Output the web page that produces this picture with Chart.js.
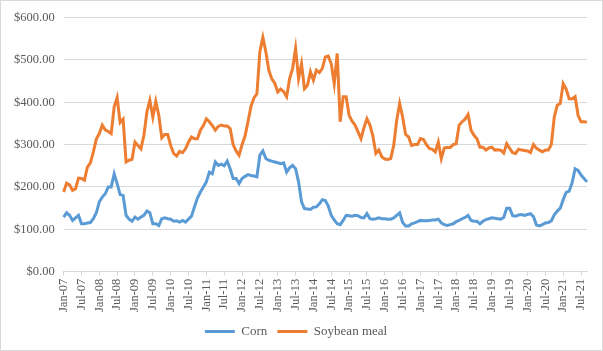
<!DOCTYPE html>
<html>
<head>
<meta charset="utf-8">
<script src="https://cdn.jsdelivr.net/npm/chart.js@4"></script>
<style>
  html, body { margin: 0; padding: 0; background: #fff; }
  #wrap { width: 603px; height: 351px; box-sizing: border-box; border: 1px solid #d9d9d9; position: relative; }
</style>
</head>
<body>
<div id="wrap"><canvas id="price-chart"></canvas></div>
<script>
const monthNames = ['Jan', 'Feb', 'Mar', 'Apr', 'May', 'Jun', 'Jul', 'Aug', 'Sep', 'Oct', 'Nov', 'Dec'];
const startYear = 2007;
const monthCount = 177; // Jan-07 .. Sep-21
const yTicks = [0, 100, 200, 300, 400, 500, 600];

const months = [];
for (let i = 0; i < monthCount; i++) {
  const yr = startYear + Math.floor(i / 12);
  months.push(monthNames[i % 12] + '-' + String(yr).slice(2));
}

const corn = [
  129, 139, 133, 121, 127, 133, 113, 113, 115, 116, 125, 139,
  165, 176, 184, 200, 200, 231, 208, 182, 180, 133, 124, 119,
  129, 124, 129, 133, 143, 139, 113, 113, 109, 125, 127, 125,
  124, 119, 120, 117, 121, 117, 124, 131, 153, 174, 188, 200,
  212, 235, 231, 259, 251, 254, 250, 261, 243, 220, 220, 208,
  220, 225, 229, 227, 226, 224, 275, 285, 267, 263, 261, 259,
  257, 255, 257, 235, 245, 251, 243, 212, 165, 149, 148, 147,
  152, 153, 160, 170, 168, 155, 133, 122, 113, 111, 121, 133,
  132, 131, 133, 132, 128, 127, 137, 125, 124, 125, 127, 125,
  125, 124, 124, 127, 133, 139, 116, 108, 108, 113, 115, 118,
  121, 120, 120, 121, 122, 122, 124, 115, 111, 109, 111, 113,
  118, 121, 125, 128, 133, 121, 119, 119, 113, 119, 123, 125,
  127, 126, 125, 124, 128, 150, 150, 132, 131, 134, 135, 133,
  135, 137, 130, 110, 108, 111, 115, 116, 120, 134, 143, 150,
  170, 187, 190, 210, 243, 239, 228, 220, 212
];

const soybeanMeal = [
  188, 209, 205, 192, 196, 221, 220, 216, 247, 257, 283, 313,
  326, 346, 335, 331, 326, 389, 411, 352, 360, 259, 263, 265,
  306, 298, 290, 322, 377, 405, 365, 402, 369, 316, 324, 324,
  298, 279, 273, 284, 281, 290, 306, 318, 314, 314, 334, 345,
  361, 354, 345, 334, 343, 346, 344, 344, 338, 300, 285, 275,
  300, 320, 354, 390, 410, 420, 520, 553, 519, 476, 455, 445,
  424, 431, 425, 413, 456, 480, 527, 456, 491, 432, 440, 472,
  452, 476, 470, 480, 507, 509, 490, 444, 515, 354, 413, 413,
  369, 355, 346, 330, 314, 340, 361, 346, 320, 279, 287, 271,
  266, 265, 267, 298, 357, 397, 365, 324, 318, 298, 300, 300,
  314, 312, 300, 291, 289, 283, 306, 267, 292, 293, 293, 300,
  302, 346, 354, 360, 371, 334, 322, 314, 294, 294, 287, 292,
  294, 287, 288, 287, 280, 302, 291, 281, 279, 289, 287, 286,
  285, 281, 300, 291, 287, 283, 287, 287, 300, 365, 393, 397,
  444, 431, 408, 408, 413, 369, 354, 354, 353
];

const grayText = '#595959';
const serif = "'Liberation Serif', 'Times New Roman', serif";

const priceChart = new Chart(document.getElementById('price-chart'), {
  type: 'line',
  data: {
    labels: months,
    datasets: [{
      label: 'Corn',
      data: corn,
      borderColor: '#5B9BD5',
      backgroundColor: '#5B9BD5',
      borderWidth: 3,
      pointRadius: 0,
      tension: 0
    }, {
      label: 'Soybean meal',
      data: soybeanMeal,
      borderColor: '#ED7D31',
      backgroundColor: '#ED7D31',
      borderWidth: 3,
      pointRadius: 0,
      tension: 0
    }]
  },
  options: {
    responsive: true,
    maintainAspectRatio: false,
    animation: false,
    layout: {
      padding: { left: 4, right: 15, top: 8, bottom: 2 }
    },
    scales: {
      x: {
        offset: false,
        afterBuildTicks: (scale) => {
          scale.ticks = scale.ticks.filter(t => t.value % 6 === 0);
        },
        ticks: {
          autoSkip: false,
          maxRotation: 90,
          minRotation: 90,
          color: grayText,
          padding: 3,
          font: { family: serif, size: 12.5 },
          callback: function (value) { return this.getLabelForValue(value); }
        },
        grid: {
          display: true,
          drawOnChartArea: false,
          drawTicks: true,
          tickLength: 4,
          color: '#d9d9d9'
        },
        border: { display: true, color: '#d9d9d9' }
      },
      y: {
        min: 0,
        max: 600,
        afterBuildTicks: (scale) => {
          scale.ticks = yTicks.map(v => ({ value: v }));
        },
        ticks: {
          color: grayText,
          padding: 9,
          font: { family: serif, size: 12.5 },
          callback: (v) => '$' + v.toFixed(2)
        },
        grid: {
          color: '#d9d9d9',
          lineWidth: 1,
          drawTicks: false
        },
        border: { display: false }
      }
    },
    plugins: {
      legend: {
        position: 'bottom',
        labels: {
          usePointStyle: true,
          pointStyle: 'line',
          pointStyleWidth: 30,
          boxHeight: 6,
          color: grayText,
          padding: 10,
          font: { family: serif, size: 13 }
        }
      },
      tooltip: { enabled: false }
    }
  }
});
</script>
</body>
</html>
